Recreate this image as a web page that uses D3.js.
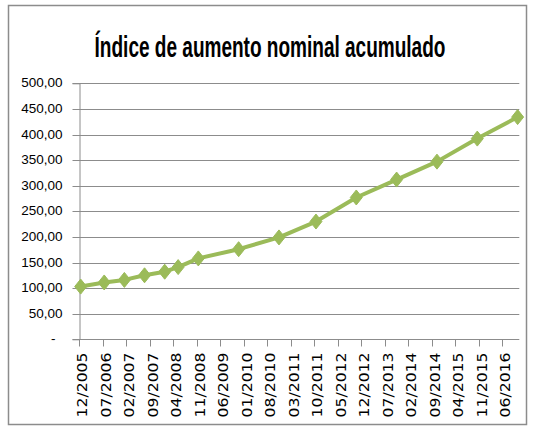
<!DOCTYPE html>
<html>
<head>
<meta charset="utf-8">
<script src="https://cdn.jsdelivr.net/npm/d3@7/dist/d3.min.js"></script>
<style>
  html, body { margin: 0; padding: 0; background: #fff; }
  svg { display: block; }
</style>
</head>
<body>
<script>
const title = "Índice de aumento nominal acumulado";
const dates = ["12/2005","07/2006","01/2007","07/2007","01/2008","05/2008","11/2008","11/2009","11/2010","10/2011","10/2012","10/2013","10/2014","10/2015","10/2016"];
const values = [103,111,116,125,132,141,158,176,199,230,277,312,347,392,434];
const xTickLabels = ["12/2005","07/2006","02/2007","09/2007","04/2008","11/2008","06/2009","01/2010","08/2010","03/2011","10/2011","05/2012","12/2012","07/2013","02/2014","09/2014","04/2015","11/2015","06/2016"];
const yTicks = [0,50,100,150,200,250,300,350,400,450,500];

const W = 533, H = 428;
const monthIndex = s => { const [m, y] = s.split("/").map(Number); return (y - 2005) * 12 + (m - 12); };
const lastIdx = monthIndex(dates[dates.length - 1]) + 1;

const svg = d3.select("body").append("svg").attr("width", W).attr("height", H);

// outer border
svg.append("rect").attr("x", 8.5).attr("y", 5.5).attr("width", 518).attr("height", 419)
  .attr("fill", "#fff").attr("stroke", "#8c8c8c").attr("stroke-width", 1.5);

const x = d3.scaleLinear().domain([0, lastIdx]).range([79, 519.3]);
const y = d3.scaleLinear().domain([0, 500]).range([339.3, 83.3]);

// title: tall condensed look via horizontal scale
const tg = svg.append("g");
const t = tg.append("text").attr("x", 0).attr("y", 0).attr("text-anchor", "middle")
  .attr("font-family", "'Liberation Sans', Arial, sans-serif")
  .attr("font-weight", "bold").attr("font-size", 30)
  .attr("fill", "#000").text(title);
const tw = t.node().getComputedTextLength();
tg.attr("transform", `translate(270,56.5) scale(${Math.min(1, 351 / tw)},1)`);

// gridlines
svg.append("g").selectAll("line").data(yTicks.filter(d => d > 0)).join("line")
  .attr("x1", x(0)).attr("x2", x(lastIdx))
  .attr("y1", d => Math.round(y(d)) + 0.5).attr("y2", d => Math.round(y(d)) + 0.5)
  .attr("stroke", "#8c8c8c").attr("stroke-width", 1);

// y axis
const yAxis = svg.append("g").attr("transform", "translate(79.5,0)")
  .call(d3.axisLeft(y).tickValues(yTicks).tickSize(7).tickPadding(10)
    .tickFormat(d => d === 0 ? "-" : d.toFixed(2).replace(".", ",")));
yAxis.select(".domain").attr("stroke", "#8c8c8c");
yAxis.selectAll(".tick line").attr("stroke", "#8c8c8c").attr("transform", "translate(0,0.5)");
yAxis.selectAll(".tick text")
  .attr("font-family", "'Liberation Sans', Arial, sans-serif").attr("font-size", 13.5)
  .attr("fill", "#000").attr("dy", "0.32em")
  .attr("dx", d => d === 0 ? -7 : 0);
yAxis.selectAll(".tick").attr("transform", d => `translate(0,${Math.round(y(d))})`);

// x axis
const xa = svg.append("g").attr("transform", `translate(0,${Math.round(y(0)) + 0.5})`);
xa.append("line").attr("x1", x(0)).attr("x2", x(lastIdx)).attr("stroke", "#8c8c8c");
const xt = xa.selectAll("g.xt").data(xTickLabels).join("g").attr("class", "xt")
  .attr("transform", d => `translate(${Math.round(x(monthIndex(d))) + 0.5},0)`);
xt.append("line").attr("y1", 0).attr("y2", 7).attr("stroke", "#8c8c8c");
xt.append("text")
  .attr("transform", "translate(2.7,13) rotate(-90)")
  .attr("text-anchor", "end").attr("dy", "0.36em")
  .attr("font-family", "'DejaVu Sans', Verdana, sans-serif").attr("font-size", 14)
  .attr("textLength", 65).attr("lengthAdjust", "spacingAndGlyphs")
  .attr("fill", "#000").text(d => d);

// line
const pts = dates.map((d, i) => ({ mx: monthIndex(d) + 0.5, v: values[i] }));
svg.append("path").datum(pts)
  .attr("fill", "none").attr("stroke", "#9BBB59").attr("stroke-width", 4)
  .attr("stroke-linejoin", "round")
  .attr("d", d3.line().x(d => x(d.mx)).y(d => y(d.v)));

// diamond markers
svg.append("g").selectAll("path").data(pts).join("path")
  .attr("transform", d => `translate(${x(d.mx)},${y(d.v)})`)
  .attr("d", "M0,-7.5L6,0L0,7.5L-6,0Z")
  .attr("fill", "#9BBB59").attr("stroke", "#9BBB59").attr("stroke-width", 1);
</script>
</body>
</html>
